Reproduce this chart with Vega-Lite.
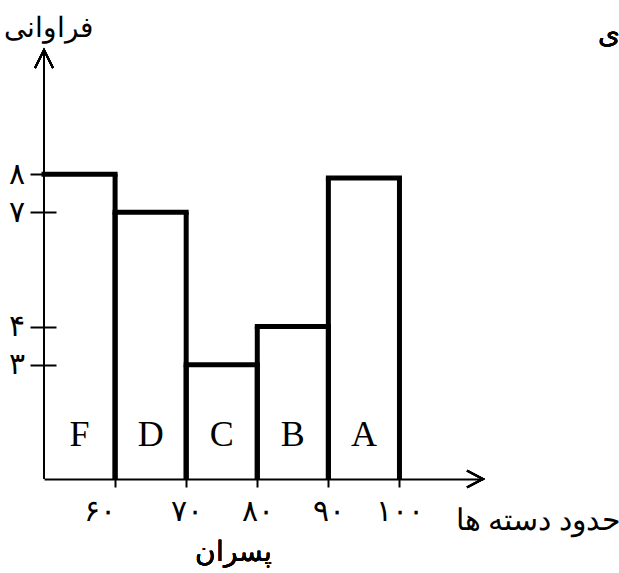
{
  "$schema": "https://vega.github.io/schema/vega-lite/v6.json",
  "autosize": {"type": "none"},
  "padding": {"left": 44, "top": 50, "right": 136, "bottom": 94},
  "width": 439,
  "height": 429,
  "background": "white",
  "config": {
    "view": {"stroke": null},
    "font": "Liberation Serif",
    "axis": {"grid": false}
  },
  "datasets": {
    "bars": [
      {"grade": "F", "lo": 50, "hi": 60, "mid": 55, "freq": 8},
      {"grade": "D", "lo": 60, "hi": 70, "mid": 65, "freq": 7},
      {"grade": "C", "lo": 70, "hi": 80, "mid": 75, "freq": 3},
      {"grade": "B", "lo": 80, "hi": 90, "mid": 85, "freq": 4},
      {"grade": "A", "lo": 90, "hi": 100, "mid": 95, "freq": 7.9}
    ]
  },
  "data": {"name": "bars"},
  "layer": [
    {
      "mark": {"type": "rule", "color": "black", "strokeWidth": 5, "strokeCap": "square"},
      "encoding": {
        "x": {"field": "lo", "type": "quantitative", "scale": {"domain": [50, 111.75], "nice": false, "zero": false},
          "axis": {
            "values": [60, 70, 80, 90, 100],
            "title": "حدود دسته ها",
            "titleX": 576, "titleY": 41, "titleAlign": "right", "titleBaseline": "middle",
            "titleFontSize": 30, "titleFontWeight": "normal", "titleColor": "black",
            "domainColor": "black", "domainWidth": 2,
            "tickColor": "black", "tickWidth": 2, "tickSize": 8,
            "labelFontSize": 30, "labelColor": "black", "labelPadding": 24, "labelBaseline": "middle",
            "labelAlign": {"condition": {"test": "datum.value == 60", "value": "right"}, "value": "center"},
            "labelExpr": "datum.value == 60 ? '۶۰' : datum.value == 70 ? '۷۰' : datum.value == 80 ? '۸۰' : datum.value == 90 ? '۹۰' : '۱۰۰'"
          }},
        "x2": {"field": "hi"},
        "y": {"field": "freq", "type": "quantitative", "scale": {"domain": [0, 11.26], "nice": false},
          "axis": {
            "values": [3, 4, 7, 8],
            "title": "فراوانی",
            "titleAngle": 0, "titleX": -8, "titleY": -22, "titleAlign": "center", "titleBaseline": "middle",
            "titleFontSize": 28, "titleFontWeight": "normal", "titleColor": "black",
            "domain": false, "offset": -12,
            "tickColor": "black", "tickWidth": 2, "tickSize": 26,
            "labelFontSize": 30, "labelColor": "black", "labelPadding": 6, "labelBaseline": "middle",
            "labelExpr": "datum.value == 3 ? '۳' : datum.value == 4 ? '۴' : datum.value == 7 ? '۷' : '۸'"
          }}
      }
    },
    {
      "transform": [{"filter": "datum.lo > 50"}],
      "mark": {"type": "rule", "color": "black", "strokeWidth": 5},
      "encoding": {
        "x": {"field": "lo", "type": "quantitative"},
        "y": {"field": "freq", "type": "quantitative"},
        "y2": {"datum": 0}
      }
    },
    {
      "mark": {"type": "rule", "color": "black", "strokeWidth": 5},
      "encoding": {
        "x": {"field": "hi", "type": "quantitative"},
        "y": {"field": "freq", "type": "quantitative"},
        "y2": {"datum": 0}
      }
    },
    {
      "mark": {"type": "text", "fontSize": 36, "font": "Liberation Serif", "color": "black", "baseline": "middle"},
      "encoding": {
        "x": {"field": "mid", "type": "quantitative"},
        "y": {"datum": 1.15, "type": "quantitative"},
        "text": {"field": "grade", "type": "nominal"}
      }
    },
    {
      "mark": {"type": "rule", "color": "black", "strokeWidth": 2},
      "encoding": {
        "x": {"datum": 50, "type": "quantitative"}
      }
    },
    {
      "mark": {"type": "point", "shape": "M -0.5 1 L 0 0 L 0.5 1", "size": 1296, "filled": false, "stroke": "black", "strokeWidth": 2, "opacity": 1},
      "encoding": {
        "x": {"datum": 50, "type": "quantitative"},
        "y": {"datum": 11.26, "type": "quantitative"}
      }
    },
    {
      "mark": {"type": "point", "shape": "M -0.53 1 L 0 0 L 0.53 1", "size": 1024, "angle": 90, "filled": false, "stroke": "black", "strokeWidth": 2, "opacity": 1},
      "encoding": {
        "x": {"datum": 111.75, "type": "quantitative"},
        "y": {"datum": 0, "type": "quantitative"}
      }
    },
    {
      "mark": {"type": "text", "fontSize": 28, "color": "black", "baseline": "middle", "clip": false, "text": "پسران"},
      "encoding": {
        "x": {"datum": 76.6, "type": "quantitative"},
        "y": {"datum": -1.94, "type": "quantitative"}
      }
    },
    {
      "mark": {"type": "text", "fontSize": 28, "color": "black", "baseline": "middle", "clip": false, "text": "ی"},
      "encoding": {
        "x": {"datum": 129.5, "type": "quantitative"},
        "y": {"datum": 11.65, "type": "quantitative"}
      }
    }
  ]
}
